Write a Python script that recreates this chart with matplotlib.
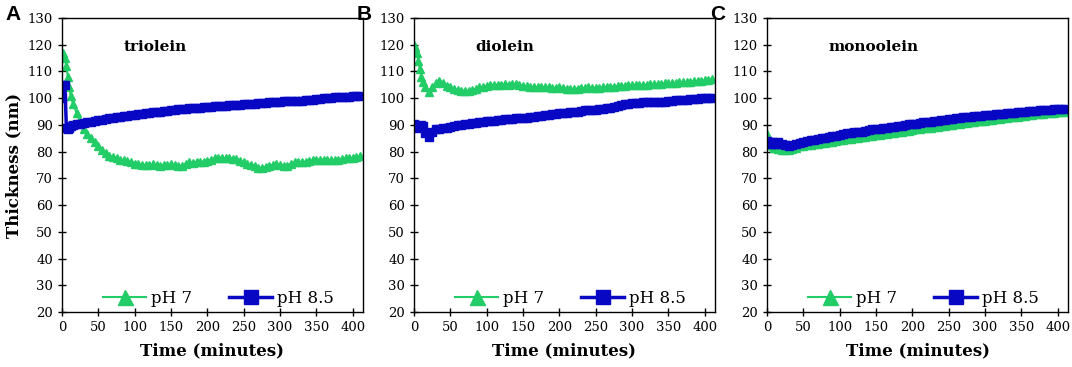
import matplotlib
matplotlib.use("Agg")
import matplotlib.pyplot as plt

# sampling times (minutes), shared by every series
minutes = [0, 2, 4, 6, 8, 10, 12] + list(range(15, 415, 5))

panel_names = ["triolein", "diolein", "monoolein"]
panel_letters = ["A", "B", "C"]

triolein_ph7 = [116, 117, 115, 112, 108, 104, 101,
                98, 94.5, 91, 88.5, 86.5, 85, 83.5, 82, 80.5, 79.5,
                78.5, 78, 77.5, 77, 76.8, 76.5, 76, 75.5, 75.2, 75,
                75, 75, 75.2, 75, 74.8, 75, 75, 75.2, 75, 74.6,
                74.8, 75.5, 76, 75.8, 76, 76, 76.3, 76.5, 77, 77.5,
                77.8, 77.8, 77.5, 77.6, 77.3, 77.2, 76.5, 76, 75.5, 75,
                74.5, 74, 74, 74.3, 74.8, 75, 75.2, 75, 74.8, 74.7,
                75.5, 76, 76, 76, 76.3, 76.5, 76.8, 77, 77, 77,
                77, 76.8, 77, 77, 77.2, 77.5, 77.5, 77.8, 78, 78.2]
triolein_ph85 = [100, 105, 105, 89, 88.5, 89, 89.5,
                 90, 90.5, 90.5, 90.8, 91, 91.2, 91.5, 91.7, 92, 92.2,
                 92.4, 92.6, 92.8, 93, 93.2, 93.4, 93.6, 93.8, 94, 94.2,
                 94.4, 94.6, 94.8, 95, 95, 95.1, 95.3, 95.5, 95.6, 95.8,
                 96, 96.1, 96.2, 96.3, 96.4, 96.5, 96.6, 96.7, 96.8, 96.9,
                 97, 97.1, 97.2, 97.3, 97.4, 97.5, 97.6, 97.7, 97.8, 97.9,
                 98, 98.1, 98.2, 98.3, 98.4, 98.5, 98.6, 98.7, 98.8, 98.9,
                 99, 99, 99, 99.1, 99.2, 99.3, 99.3, 99.6, 99.8, 100,
                 100.1, 100.2, 100.3, 100.5, 100.5, 100.6, 100.6, 100.7, 100.8, 100.8]

diolein_ph7 = [120, 119, 117, 114, 111, 108, 106,
               104, 102.5, 104, 105.5, 106.5, 105.5, 104.5, 104, 103.5, 103,
               102.8, 102.8, 102.8, 103, 103.5, 104, 104.3, 104.5, 104.8, 105,
               105, 105, 105.2, 105, 105.2, 105.3, 105, 104.6, 104.5, 104.3,
               104.2, 104, 104, 104, 104, 103.8, 103.8, 104, 103.8, 103.6,
               103.5, 103.5, 103.6, 103.8, 103.8, 104, 103.9, 103.8, 103.9, 104,
               104.2, 104.3, 104.3, 104.5, 104.6, 104.7, 104.8, 104.8, 104.9, 105,
               105, 105, 105.2, 105.2, 105.3, 105.3, 105.5, 105.6, 105.7, 105.8,
               106, 106, 106.1, 106.2, 106.3, 106.4, 106.5, 106.7, 106.9, 107.2]
diolein_ph85 = [90.5, 90, 89.5, 89, 89.5, 90, 89.5,
                87, 85.5, 87.5, 88.5, 88.5, 88.8, 89, 89.2, 89.5, 89.8,
                90, 90.2, 90.4, 90.6, 90.8, 91, 91.2, 91.3, 91.3, 91.5,
                91.8, 92, 92.1, 92.2, 92.3, 92.4, 92.5, 92.6, 92.7, 92.8,
                93, 93.2, 93.4, 93.6, 93.8, 94, 94.2, 94.4, 94.5, 94.6,
                94.7, 94.8, 95, 95.2, 95.4, 95.5, 95.6, 95.7, 95.8, 96,
                96.2, 96.5, 96.8, 97.1, 97.4, 97.7, 98, 98.1, 98.2, 98.3,
                98.4, 98.5, 98.5, 98.5, 98.6, 98.6, 98.6, 98.8, 99, 99.2,
                99.3, 99.4, 99.5, 99.6, 99.7, 99.8, 99.9, 100, 100, 100.1]

monoolein_ph7 = [86.5, 85, 83.5, 82.5, 82, 81.5, 81.5,
                 81, 80.7, 80.5, 80.5, 81, 81.5, 82, 82.2, 82.4, 82.6,
                 82.8, 83, 83.2, 83.4, 83.5, 83.7, 84, 84.2, 84.4, 84.6,
                 84.8, 85, 85.2, 85.4, 85.6, 85.8, 86, 86.1, 86.3, 86.5,
                 86.7, 86.9, 87.1, 87.3, 87.5, 87.7, 87.9, 88.1, 88.3, 88.5,
                 88.7, 88.8, 89, 89.2, 89.4, 89.5, 89.7, 89.9, 90.1, 90.2,
                 90.4, 90.6, 90.8, 91, 91.1, 91.3, 91.5, 91.6, 91.8, 92,
                 92.1, 92.3, 92.5, 92.6, 92.8, 93, 93.1, 93.3, 93.4, 93.6,
                 93.7, 93.9, 94, 94.2, 94.3, 94.5, 94.6, 94.7, 94.9, 95]
monoolein_ph85 = [84, 83.5, 83.5, 83, 83.5, 83, 83,
                  83.5, 83, 82.5, 82, 82.5, 83, 83.2, 83.5, 84, 84.2,
                  84.5, 84.8, 85, 85.2, 85.5, 85.7, 86, 86.3, 86.5, 86.8,
                  87, 87.3, 87.5, 87.5, 87.8, 88, 88.3, 88.5, 88.6, 88.8,
                  89, 89.2, 89.4, 89.5, 89.7, 90, 90.2, 90.4, 90.5, 90.7,
                  91, 91, 91.2, 91.5, 91.6, 91.8, 92, 92.1, 92.2, 92.4,
                  92.6, 92.8, 93, 93, 93.2, 93.4, 93.5, 93.6, 93.7, 93.8,
                  94, 94, 94.2, 94.4, 94.5, 94.5, 94.7, 94.8, 95, 95.1,
                  95.2, 95.3, 95.4, 95.5, 95.6, 95.7, 95.8, 95.9, 96, 96]

ph7_series = [triolein_ph7, diolein_ph7, monoolein_ph7]
ph85_series = [triolein_ph85, diolein_ph85, monoolein_ph85]

green = "#22cc66"
blue = "#0808c4"
serif = "DejaVu Serif"

fig = plt.figure(figsize=(10.72, 3.67), dpi=100)
lefts = [62, 414, 767]
W, H = 1072, 367

for i in range(3):
    ax = fig.add_axes([lefts[i] / W, 1 - 312 / H, 301 / W, 294 / H])
    ax.plot(minutes, ph7_series[i], color=green, marker="^", markersize=6,
            linewidth=1.5, label="pH 7")
    ax.plot(minutes, ph85_series[i], color=blue, marker="s", markersize=5.5,
            linewidth=2.5, label="pH 8.5")
    ax.set_xlim(0, 414)
    ax.set_ylim(20, 130)
    ax.set_xticks(range(0, 401, 50))
    ax.set_yticks(range(20, 131, 10))
    ax.tick_params(direction="inout", length=6, width=1, labelsize=9.5)
    for lab in ax.get_xticklabels() + ax.get_yticklabels():
        lab.set_fontfamily(serif)
    for sp in ax.spines.values():
        sp.set_linewidth(1)
    ax.set_xlabel("Time (minutes)", fontfamily=serif, fontweight="bold",
                  fontsize=12, labelpad=6)
    if i == 0:
        ax.set_ylabel("Thickness (nm)", fontfamily=serif, fontweight="bold",
                      fontsize=12, labelpad=4)
    ax.text(85, 119, panel_names[i], fontfamily=serif, fontweight="bold",
            fontsize=11, va="center", ha="left")
    leg = ax.legend(loc="lower center", bbox_to_anchor=(0.52, -0.035), ncol=2,
                    frameon=False, handlelength=2.6, columnspacing=2.2,
                    handletextpad=0.3, markerscale=1.8,
                    prop={"family": serif, "size": 12})
    fig.text((lefts[i] - 57) / W, 1 - 14 / H, panel_letters[i],
             fontfamily="Liberation Sans", fontweight="bold", fontsize=15,
             va="center", ha="left")

fig.savefig("out.png", dpi=100)
